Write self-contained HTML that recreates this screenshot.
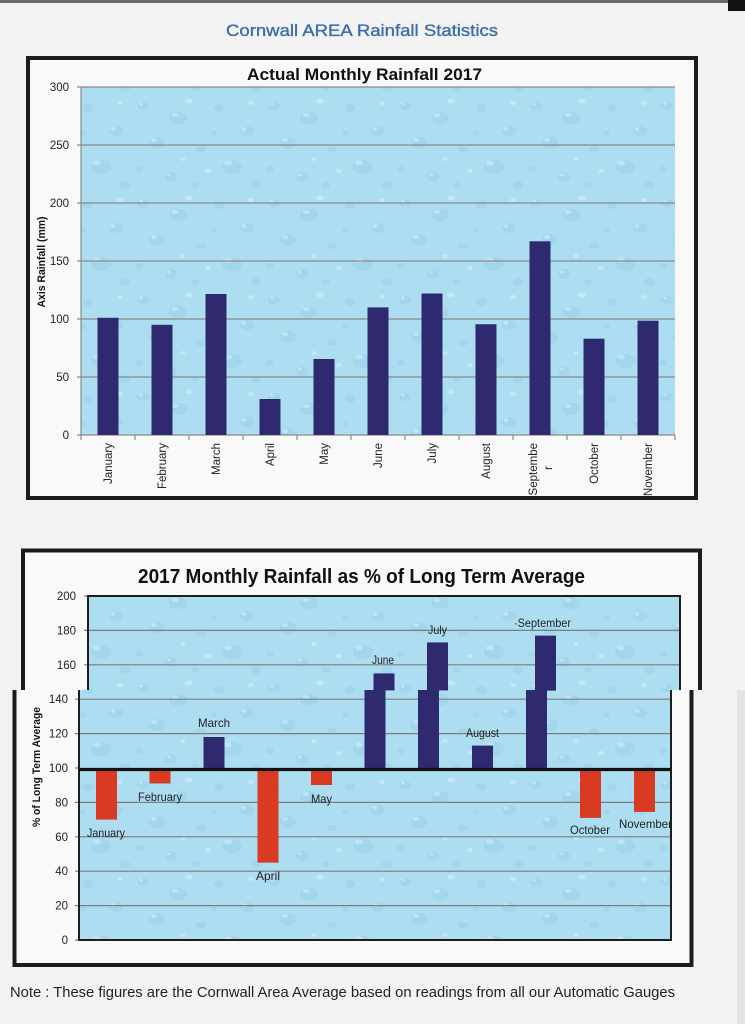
<!DOCTYPE html>
<html>
<head>
<meta charset="utf-8">
<style>
html,body{margin:0;padding:0;background:#f3f3f3;}
body{width:745px;height:1024px;overflow:hidden;}
svg{display:block;}
text{font-family:"Liberation Sans",Arial,sans-serif;}
</style>
</head>
<body>
<svg width="745" height="1024" viewBox="0 0 745 1024" xmlns="http://www.w3.org/2000/svg">
<defs>
<pattern id="drops" patternUnits="userSpaceOnUse" width="131" height="97">
<rect width="131" height="97" fill="#acddf0"/>
<g fill="#94cde6" opacity="0.45">
<ellipse cx="12" cy="9" rx="6" ry="4"/>
<ellipse cx="47" cy="21" rx="9" ry="6"/>
<ellipse cx="88" cy="11" rx="5" ry="4"/>
<ellipse cx="116" cy="34" rx="7" ry="5"/>
<ellipse cx="26" cy="46" rx="8" ry="6"/>
<ellipse cx="70" cy="52" rx="5" ry="3"/>
<ellipse cx="101" cy="70" rx="10" ry="7"/>
<ellipse cx="40" cy="80" rx="6" ry="5"/>
<ellipse cx="8" cy="72" rx="4" ry="3"/>
<ellipse cx="64" cy="88" rx="4" ry="3"/>
<ellipse cx="125" cy="88" rx="5" ry="4"/>
<ellipse cx="83" cy="36" rx="3" ry="2.5"/>
</g>
<g fill="#e6f6fc" opacity="0.45">
<ellipse cx="10" cy="7" rx="2" ry="1.5"/>
<ellipse cx="44" cy="18" rx="3.5" ry="2"/>
<ellipse cx="113" cy="32" rx="2.5" ry="2"/>
<ellipse cx="23" cy="43" rx="3" ry="2"/>
<ellipse cx="97" cy="66" rx="4" ry="2.5"/>
<ellipse cx="38" cy="78" rx="2" ry="1.5"/>
<ellipse cx="58" cy="4" rx="4" ry="2.5"/>
<ellipse cx="77" cy="74" rx="3" ry="2"/>
<ellipse cx="120" cy="6" rx="3" ry="2"/>
<ellipse cx="52" cy="62" rx="2.5" ry="2"/>
</g>
</pattern>
</defs>

<!-- page scan edges -->
<rect x="0" y="0" width="745" height="3" fill="#6a6a6a"/>
<rect x="728" y="0" width="17" height="11" fill="#111"/>
<rect x="737" y="690" width="8" height="334" fill="#e4e4e4"/>

<!-- Main title -->
<text x="226" y="36" font-size="17" fill="#3a6dab" stroke="#3a6dab" stroke-width="0.35" textLength="272" lengthAdjust="spacingAndGlyphs">Cornwall AREA Rainfall Statistics</text>

<!-- ============ CHART 1 ============ -->
<rect x="28" y="58" width="668" height="440" fill="#f9f9f9" stroke="#1c1c1c" stroke-width="4"/>
<text x="247" y="80" font-size="17" font-weight="bold" fill="#111" textLength="235" lengthAdjust="spacingAndGlyphs">Actual Monthly Rainfall 2017</text>

<rect x="81" y="87" width="594" height="348" fill="url(#drops)"/>
<g stroke="#8a8a8a" stroke-width="1.2">
<line x1="77" y1="87" x2="675" y2="87"/>
<line x1="77" y1="145" x2="675" y2="145"/>
<line x1="77" y1="203" x2="675" y2="203"/>
<line x1="77" y1="261" x2="675" y2="261"/>
<line x1="77" y1="319" x2="675" y2="319"/>
<line x1="77" y1="377" x2="675" y2="377"/>
<line x1="77" y1="435" x2="675" y2="435"/>
<line x1="81" y1="87" x2="81" y2="435"/>
<line x1="81" y1="435" x2="81" y2="440"/>
<line x1="135" y1="435" x2="135" y2="440"/>
<line x1="189" y1="435" x2="189" y2="440"/>
<line x1="243" y1="435" x2="243" y2="440"/>
<line x1="297" y1="435" x2="297" y2="440"/>
<line x1="351" y1="435" x2="351" y2="440"/>
<line x1="405" y1="435" x2="405" y2="440"/>
<line x1="459" y1="435" x2="459" y2="440"/>
<line x1="513" y1="435" x2="513" y2="440"/>
<line x1="567" y1="435" x2="567" y2="440"/>
<line x1="621" y1="435" x2="621" y2="440"/>
<line x1="675" y1="435" x2="675" y2="440"/>
</g>
<g font-size="11.5" fill="#222" text-anchor="end">
<text x="69" y="91">300</text>
<text x="69" y="149">250</text>
<text x="69" y="207">200</text>
<text x="69" y="265">150</text>
<text x="69" y="323">100</text>
<text x="69" y="381">50</text>
<text x="69" y="439">0</text>
</g>
<text transform="translate(45,262) rotate(-90)" font-size="11" font-weight="bold" fill="#111" text-anchor="middle" textLength="91" lengthAdjust="spacingAndGlyphs">Axis Rainfall (mm)</text>

<g fill="#2f2a6f">
<rect x="97.5" y="317.8" width="21" height="117.2"/>
<rect x="151.5" y="324.8" width="21" height="110.2"/>
<rect x="205.5" y="294" width="21" height="141"/>
<rect x="259.5" y="399" width="21" height="36"/>
<rect x="313.5" y="359" width="21" height="76"/>
<rect x="367.5" y="307.4" width="21" height="127.6"/>
<rect x="421.5" y="293.5" width="21" height="141.5"/>
<rect x="475.5" y="324.2" width="21" height="110.8"/>
<rect x="529.5" y="241.3" width="21" height="193.7"/>
<rect x="583.5" y="338.7" width="21" height="96.3"/>
<rect x="637.5" y="320.7" width="21" height="114.3"/>
</g>

<g font-size="11.5" fill="#222" text-anchor="end">
<text transform="translate(112,443) rotate(-90)">January</text>
<text transform="translate(166,443) rotate(-90)">February</text>
<text transform="translate(220,443) rotate(-90)">March</text>
<text transform="translate(274,443) rotate(-90)">April</text>
<text transform="translate(328,443) rotate(-90)">May</text>
<text transform="translate(382,443) rotate(-90)">June</text>
<text transform="translate(436,443) rotate(-90)">July</text>
<text transform="translate(490,443) rotate(-90)">August</text>
<text transform="translate(537,443) rotate(-90)">Septembe</text>
<text transform="translate(598,443) rotate(-90)">October</text>
<text transform="translate(652,443) rotate(-90)">November</text>
</g>
<text transform="translate(552,468) rotate(-90)" font-size="11.5" fill="#222" text-anchor="middle">r</text>

<!-- ============ CHART 2 ============ -->
<rect x="23" y="550" width="677" height="140" fill="#f9f9f9"/>
<rect x="14" y="690" width="677" height="275" fill="#f9f9f9"/>
<g stroke="#1c1c1c" stroke-width="4" fill="none">
<polyline points="23,690 23,550.5 700,550.5 700,690"/>
<polyline points="14.5,690 14.5,965 691.5,965 691.5,690"/>
</g>

<text x="138" y="583" font-size="20" font-weight="bold" fill="#111" textLength="447" lengthAdjust="spacingAndGlyphs">2017 Monthly Rainfall as % of Long Term Average</text>

<rect x="88" y="596" width="592" height="94" fill="url(#drops)"/>
<rect x="79" y="690" width="592" height="250" fill="url(#drops)"/>

<g stroke="#7d7d7d" stroke-width="1.2">
<line x1="84" y1="630.4" x2="680" y2="630.4"/>
<line x1="84" y1="664.8" x2="680" y2="664.8"/>
<line x1="75" y1="699.2" x2="671" y2="699.2"/>
<line x1="75" y1="733.6" x2="671" y2="733.6"/>
<line x1="75" y1="802.4" x2="671" y2="802.4"/>
<line x1="75" y1="836.8" x2="671" y2="836.8"/>
<line x1="75" y1="871.2" x2="671" y2="871.2"/>
<line x1="75" y1="905.6" x2="671" y2="905.6"/>
<line x1="84" y1="596" x2="88" y2="596"/>
<line x1="75" y1="940" x2="79" y2="940"/>
<line x1="75" y1="768" x2="79" y2="768"/>
</g>

<g stroke="#1e1e1e" stroke-width="2" fill="none">
<polyline points="88,690 88,596 680,596 680,690"/>
<polyline points="79,690 79,940 671,940 671,690"/>
</g>

<g font-size="11.5" fill="#222" text-anchor="end">
<text x="76" y="600">200</text>
<text x="76" y="634.4">180</text>
<text x="76" y="668.8">160</text>
<text x="68" y="703.2">140</text>
<text x="68" y="737.6">120</text>
<text x="68" y="772">100</text>
<text x="68" y="806.4">80</text>
<text x="68" y="840.8">60</text>
<text x="68" y="875.2">40</text>
<text x="68" y="909.6">20</text>
<text x="68" y="944">0</text>
</g>

<text transform="translate(40,767) rotate(-90)" font-size="11" font-weight="bold" fill="#111" text-anchor="middle" textLength="120" lengthAdjust="spacingAndGlyphs">% of Long Term Average</text>

<g fill="#d93a22">
<rect x="96" y="768" width="21" height="51.6"/>
<rect x="149.5" y="768" width="21" height="15.5"/>
<rect x="257.5" y="768" width="21" height="94.6"/>
<rect x="311" y="768" width="21" height="17"/>
<rect x="580" y="771" width="21" height="46.9"/>
<rect x="634" y="771" width="21" height="40.9"/>
</g>
<g fill="#2f2a6f">
<rect x="203.5" y="737" width="21" height="31"/>
<rect x="364.5" y="690" width="21" height="78"/>
<rect x="418" y="690" width="21" height="78"/>
<rect x="472" y="745.6" width="21" height="22.4"/>
<rect x="526" y="690" width="21" height="78"/>
<rect x="373.5" y="673.4" width="21" height="17"/>
<rect x="427" y="642.4" width="21" height="48"/>
<rect x="535" y="635.6" width="21" height="55"/>
</g>

<line x1="79" y1="769.5" x2="671" y2="769.5" stroke="#111" stroke-width="3.2"/>

<g font-size="12" fill="#222">
<text x="87" y="837" textLength="38" lengthAdjust="spacingAndGlyphs">January</text>
<text x="138" y="801" textLength="44" lengthAdjust="spacingAndGlyphs">February</text>
<text x="198" y="727" textLength="32" lengthAdjust="spacingAndGlyphs">March</text>
<text x="256" y="880" textLength="24" lengthAdjust="spacingAndGlyphs">April</text>
<text x="311" y="803" textLength="21" lengthAdjust="spacingAndGlyphs">May</text>
<text x="372" y="664" textLength="22" lengthAdjust="spacingAndGlyphs">June</text>
<text x="428" y="634" textLength="19" lengthAdjust="spacingAndGlyphs">July</text>
<text x="466" y="737" textLength="33" lengthAdjust="spacingAndGlyphs">August</text>
<text x="514" y="627" textLength="57" lengthAdjust="spacingAndGlyphs">·September</text>
<text x="570" y="834" textLength="40" lengthAdjust="spacingAndGlyphs">October</text>
<text x="619" y="828" textLength="53" lengthAdjust="spacingAndGlyphs">November</text>
</g>

<text x="10" y="997" font-size="14.5" fill="#222" textLength="665" lengthAdjust="spacingAndGlyphs">Note : These figures are the Cornwall Area Average based on readings from all our Automatic Gauges</text>
</svg>
</body>
</html>
